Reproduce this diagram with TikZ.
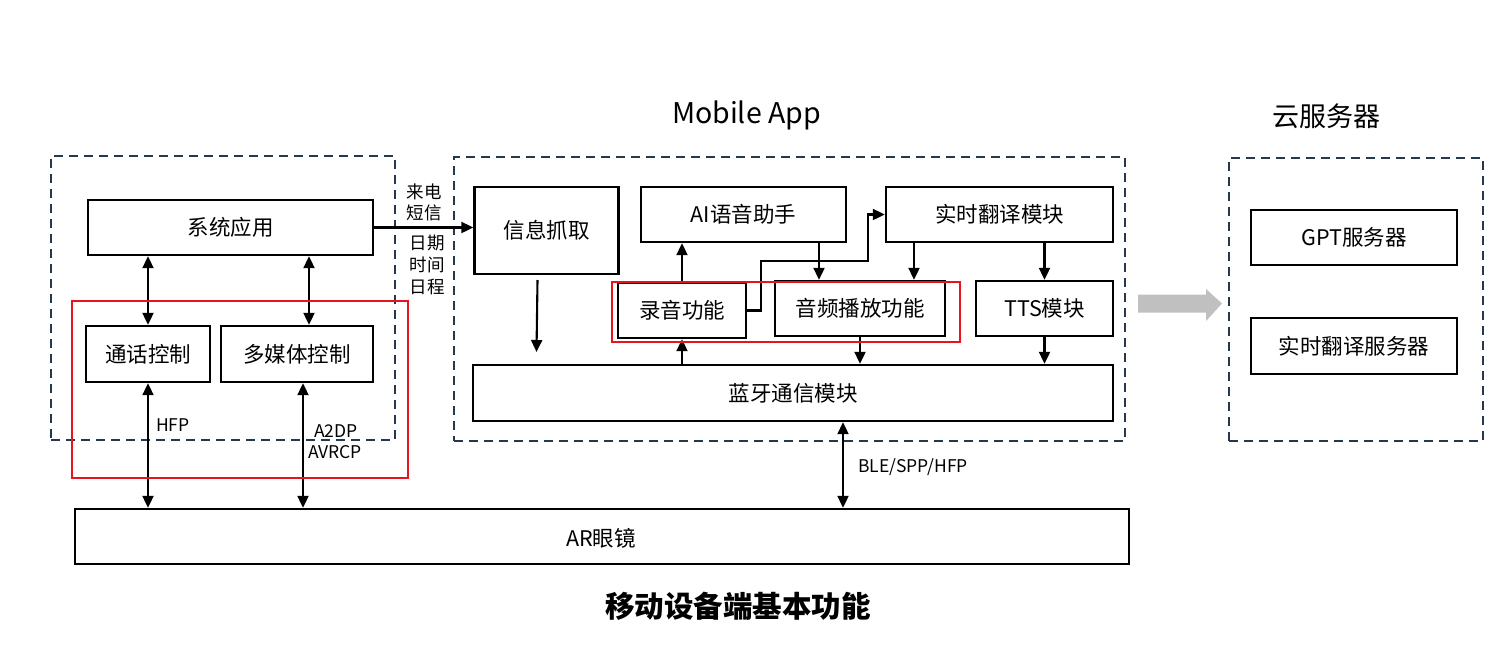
\documentclass[tikz,border=0pt]{standalone}
\usepackage{fontspec}
\setmainfont{Noto Sans CJK SC}
\usetikzlibrary{arrows.meta}
\definecolor{dashcol}{RGB}{38,56,80}
\definecolor{redbox}{RGB}{230,20,30}
\definecolor{grayarrow}{RGB}{192,192,192}
\tikzset{
  box/.style={draw=black, line width=2.4pt, fill=white, inner sep=0pt, font=\fontsize{21.5}{25}\selectfont},
  dashbox/.style={draw=dashcol, line width=2.2pt, dash pattern=on 9pt off 6pt, inner sep=0pt},
  redframe/.style={draw=redbox, line width=1.1pt, inner sep=0pt},
  lbl/.style={inner sep=0pt, font=\fontsize{17.5}{20}\selectfont},
  ttl/.style={inner sep=0pt, font=\fontsize{27}{31}\selectfont},
  arr/.style={line width=2.1pt, -{Triangle[length=12pt,width=11pt]}},
  dbl/.style={line width=2.1pt, {Triangle[length=12pt,width=11pt]}-{Triangle[length=12pt,width=11pt]}},
}
\begin{document}
\begin{tikzpicture}[x=1pt,y=-1pt]
\useasboundingbox (0,0) rectangle (1498,649);
% dashed groups
\node[dashbox, minimum width=344pt, minimum height=284pt] (grpL) at (223,298) {};
\node[dashbox, minimum width=671pt, minimum height=284pt] (grpM) at (789.5,299) {};
\node[dashbox, minimum width=254pt, minimum height=283pt] (grpC) at (1356,299.5) {};
% titles
\node[inner sep=0pt, font=\fontsize{28.5}{32}\selectfont] (tM) at (746.5,115) {Mobile App};
\node[ttl] (tC) at (1326,116) {云服务器};
\node[inner sep=0pt, font=\fontsize{29.5}{33}\selectfont\bfseries] (tB) at (738,606) {移动设备端基本功能};
% left boxes
\node[box, minimum width=285pt, minimum height=55pt] (sys) at (230.5,227.5) {系统应用};
\node[box, minimum width=124pt, minimum height=56pt] (call) at (148,354) {通话控制};
\node[box, minimum width=152pt, minimum height=56pt] (media) at (297,354) {多媒体控制};
% mobile app boxes
\node[box, minimum width=144pt, minimum height=87pt] (info) at (546.5,230.5) {信息抓取};
\node[box, minimum width=205pt, minimum height=55pt] (ai) at (743.5,214.5) {AI语音助手};
\node[box, minimum width=227pt, minimum height=55pt] (rt) at (999.5,214.5) {实时翻译模块};
\node[box, minimum width=128pt, minimum height=55pt] (rec) at (682,310.5) {录音功能};
\node[box, minimum width=170pt, minimum height=55pt] (play) at (860,308.5) {音频播放功能};
\node[box, minimum width=137pt, minimum height=55pt] (tts) at (1044.5,308.5) {TTS模块};
\node[box, minimum width=640pt, minimum height=56pt] (bt) at (793,393) {蓝牙通信模块};
% AR
\node[box, minimum width=1054pt, minimum height=55pt] (ar) at (602,536.5) {};
\node[inner sep=0pt, font=\fontsize{21.5}{25}\selectfont] (arT) at (601,538) {AR眼镜};
% cloud
\node[box, minimum width=206pt, minimum height=55pt] (gpt) at (1354,237.5) {GPT服务器};
\node[box, minimum width=206pt, minimum height=56pt] (rts) at (1354,346) {实时翻译服务器};
% coordinates
\coordinate (x309) at (309,0);
\coordinate (x303) at (303,0);
\coordinate (x819) at (819,0);
\coordinate (x914) at (914,0);
\coordinate (x843) at (843,0);
\coordinate (i1) at (537.5,280);
\coordinate (i2) at (536.5,352);
\coordinate (e1) at (761,261);
\coordinate (e2) at (868,261);
% left connectors
\draw[dbl] (call.north |- sys.south) -- (call.north);
\draw[dbl] (x309 |- sys.south) -- (x309 |- media.north);
\draw[dbl] (call.south) -- (call.south |- ar.north);
\draw[dbl] (x303 |- media.south) -- (x303 |- ar.north);
\draw[arr] (sys.east) -- (sys.east -| info.west);
% labels
\node[lbl] (l1) at (424,192) {来电};
\node[lbl] (l2) at (424,213) {短信};
\node[lbl] (l3) at (427,243) {日期};
\node[lbl] (l4) at (427,265) {时间};
\node[lbl] (l5) at (427,287) {日程};
\node[lbl, anchor=west] (hfp) at (156,425) {HFP};
\node[lbl, anchor=west] (a2dp) at (314,431) {A2DP};
\node[lbl, anchor=west] (avrcp) at (308,452) {AVRCP};
\node[lbl, anchor=west] (ble) at (858,467) {BLE/SPP/HFP};
% mobile connectors
\draw[arr] (i1) -- (i2);
\draw[arr] (rec.north) -- (rec.north |- ai.south);
\draw[arr] (rec.south |- bt.north) -- (rec.south);
\draw[arr] (x819 |- ai.south) -- (x819 |- play.north);
\draw[arr] (x914 |- rt.south) -- (x914 |- play.north);
\draw[arr] (tts.north |- rt.south) -- (tts.north);
\draw[arr] (play.south) -- (play.south |- bt.north);
\draw[arr] (tts.south) -- (tts.south |- bt.north);
\draw[arr] (rec.east) -| (e1) -- (e2) |- (rt.west);
\draw[dbl] (x843 |- bt.south) -- (x843 |- ar.north);
% red frames
\node[redframe, minimum width=336pt, minimum height=177pt] (red1) at (240,389.5) {};
\node[redframe, minimum width=348pt, minimum height=60pt] (red2) at (786,312) {};
% gray arrow
\fill[grayarrow] (1138,294.5) -- (1206,294.5) -- (1206,289) -- (1222,303.5) -- (1206,321) -- (1206,312.5) -- (1138,312.5) -- cycle;
\end{tikzpicture}
\end{document}
